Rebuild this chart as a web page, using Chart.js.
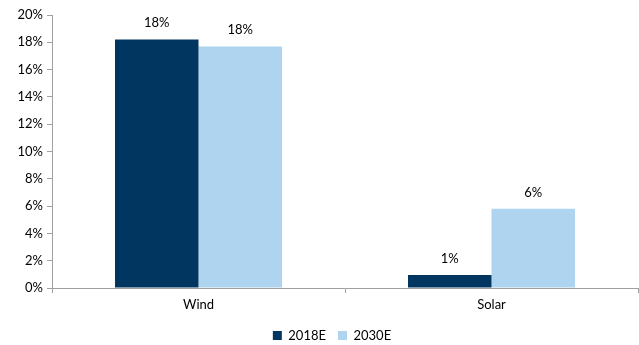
<!DOCTYPE html>
<html><head><meta charset="utf-8">
<script src="https://cdn.jsdelivr.net/npm/chart.js@4"></script>
<style>html,body{margin:0;padding:0;background:#fff}#wrap{width:639px;height:345px}</style>
</head><body><div id="wrap"><canvas id="c"></canvas></div>
<script>
const categories = ["Wind", "Solar"];
const series2018E = [18.2, 0.95];
const series2030E = [17.7, 5.8];
const seriesNames = ["2018E", "2030E"];
const yTicks = [0, 2, 4, 6, 8, 10, 12, 14, 16, 18, 20];

const FONT = "Lato, 'Liberation Sans', sans-serif";
const labelPlugin = {
  id: 'barLabels',
  afterLayout(chart) {
    const L = chart.legend;
    if (L) { L.left += 13; L.right += 13; }
  },
  afterDatasetsDraw(chart) {
    const ctx = chart.ctx;
    ctx.save();
    ctx.font = "13px " + FONT;
    ctx.fillStyle = "#000";
    ctx.textAlign = "center";
    ctx.textBaseline = "bottom";
    chart.data.datasets.forEach((ds, i) => {
      chart.getDatasetMeta(i).data.forEach((bar, j) => {
        ctx.fillText(Math.round(ds.data[j]) + "%", bar.x, bar.y - 10);
      });
    });
    ctx.restore();
  }
};

new Chart(document.getElementById('c'), {
  type: 'bar',
  data: {
    labels: categories,
    datasets: [
      { label: seriesNames[0], data: series2018E, backgroundColor: '#003660' },
      { label: seriesNames[1], data: series2030E, backgroundColor: '#AED4F0' }
    ]
  },
  options: {
    responsive: true, maintainAspectRatio: false, animation: false,
    layout: { padding: { top: 15, right: 1, left: 0, bottom: -7 } },
    datasets: { bar: { categoryPercentage: 0.57, barPercentage: 1.0 } },
    plugins: {
      legend: {
        position: 'bottom',
        labels: { boxWidth: 9, boxHeight: 9, font: { size: 13, family: FONT }, color: '#000', padding: 12 }
      },
      tooltip: { enabled: false }
    },
    scales: {
      x: {
        afterFit(s) { s.height = 29; },
        grid: { display: true, drawOnChartArea: false, offset: true, tickLength: 5, color: '#A0A0A0' },
        border: { color: '#A0A0A0' },
        ticks: { font: { size: 13, family: FONT }, color: '#000', padding: 4 }
      },
      y: {
        min: 0, max: 20,
        afterFit(s) { s.width = 52; },
        afterBuildTicks(s) { s.ticks = yTicks.map(v => ({ value: v })); },
        grid: { display: true, drawOnChartArea: false, tickLength: 5, color: '#A0A0A0' },
        border: { color: '#A0A0A0' },
        ticks: { font: { size: 13, family: FONT }, color: '#000', padding: 4, callback: v => v + '%' }
      }
    }
  },
  plugins: [labelPlugin]
});
</script></body></html>
